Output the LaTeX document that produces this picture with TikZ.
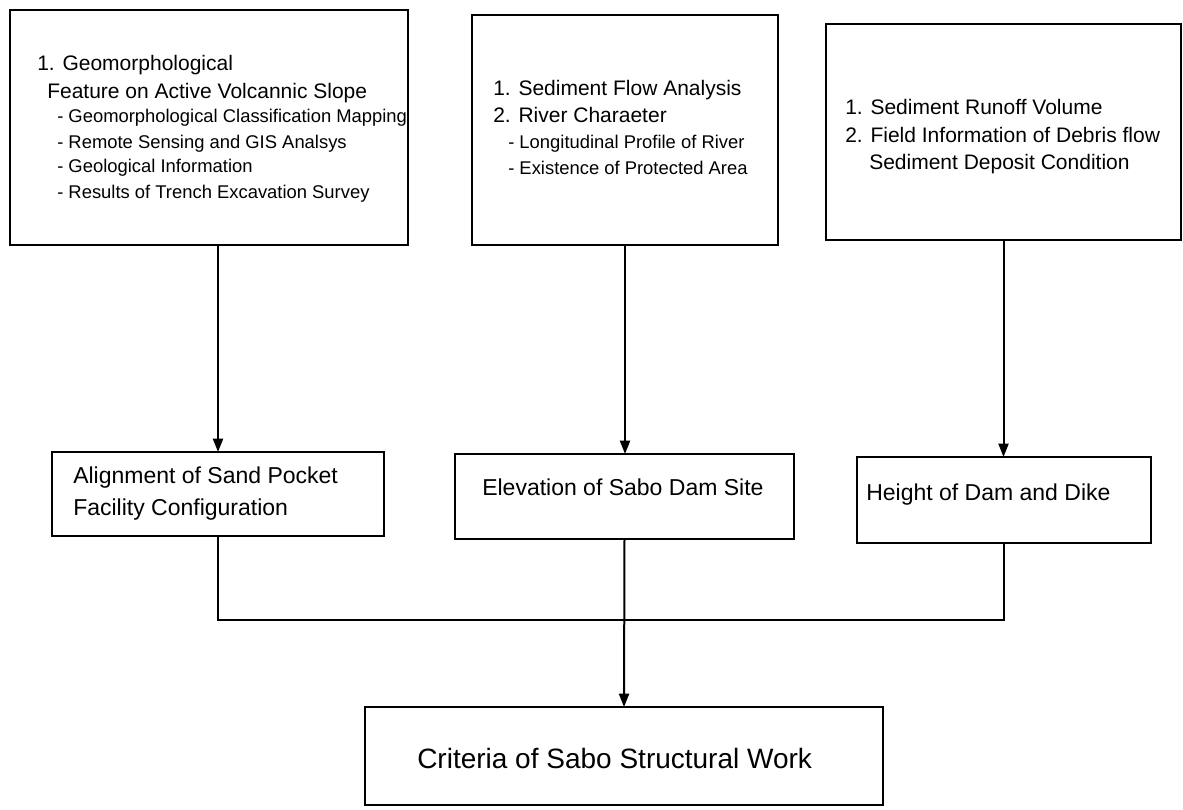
\documentclass[tikz,border=0pt]{standalone}
\usepackage{fontspec}
\setmainfont{Liberation Sans}
\usetikzlibrary{arrows.meta,fit}
\begin{document}
\begin{tikzpicture}[x=0.75pt,y=-0.75pt,
  box/.style={draw=black, line width=1.5pt, inner sep=0pt, outer sep=0pt, rectangle},
  conn/.style={draw=black, line width=1.5pt},
  arr/.style={conn, -{Triangle[length=10pt,width=7.5pt]}},
  big/.style={font=\fontsize{15.75pt}{18pt}\selectfont, anchor=base west, inner sep=0pt},
  small/.style={font=\fontsize{13.8pt}{16pt}\selectfont, anchor=base west, inner sep=0pt},
  midtext/.style={font=\fontsize{17.25pt}{20pt}\selectfont, anchor=base west, inner sep=0pt},
  huge/.style={font=\fontsize{21pt}{24pt}\selectfont, anchor=base west, inner sep=0pt},
  ]
\useasboundingbox[fill=white] (0,0) rectangle (1183,810);
% boxes
\node[box, fit={(10,10) (408,245)}] (A) {};
\node[box, fit={(472,15) (778,245)}] (B) {};
\node[box, fit={(826,24) (1181,240)}] (C) {};
\node[box, fit={(52,452) (384,536)}] (D) {};
\node[box, fit={(455,454) (794,539)}] (E) {};
\node[box, fit={(857,457) (1151,543)}] (F) {};
\node[box, fit={(365,707) (883,805)}] (G) {};
% texts A
\node[big] (a1) at (37,70.5) {1. Geomorphological};
\node[big] (a2) at (47,98.5) {Feature on Active Volcannic Slope};
\node[small] (a3) at (57,122.6) {- Geomorphological Classification Mapping};
\node[small] (a4) at (57,148.6) {- Remote Sensing and GIS Analsys};
\node[small] (a5) at (57,172.6) {- Geological Information};
\node[small] (a6) at (57,198.6) {- Results of Trench Excavation Survey};
% texts B
\node[big] (b1) at (493,95.5) {1. Sediment Flow Analysis};
\node[big] (b2) at (493,122.5) {2. River Charaeter};
\node[small] (b3) at (508,148.6) {- Longitudinal Profile of River};
\node[small] (b4) at (508,174.6) {- Existence of Protected Area};
% texts C
\node[big] (c1) at (845,114.5) {1. Sediment Runoff Volume};
\node[big] (c2) at (845,142.5) {2. Field Information of Debris flow};
\node[big] (c3) at (869,169.5) {Sediment Deposit Condition};
% middle texts
\node[midtext] (d1) at (73,483) {Alignment of Sand Pocket};
\node[midtext] (d2) at (73,515) {Facility Configuration};
\node[midtext] (e1) at (482,495) {Elevation of Sabo Dam Site};
\node[midtext] (f1) at (866,500) {Height of Dam and Dike};
\node[huge] (g1) at (417,768) {Criteria of Sabo Structural Work};
% connectors
\coordinate (bus) at (624,620);
\draw[arr] (A.south -| D.north) -- (D.north);
\draw[arr] (B.south) -- (B.south |- E.north);
\draw[arr] (C.south) -- (C.south |- F.north);
\draw[conn] (D.south) |- (bus) -| (C.south |- F.south);
\draw[arr] (E.south) -- (G.north);
\end{tikzpicture}
\end{document}
